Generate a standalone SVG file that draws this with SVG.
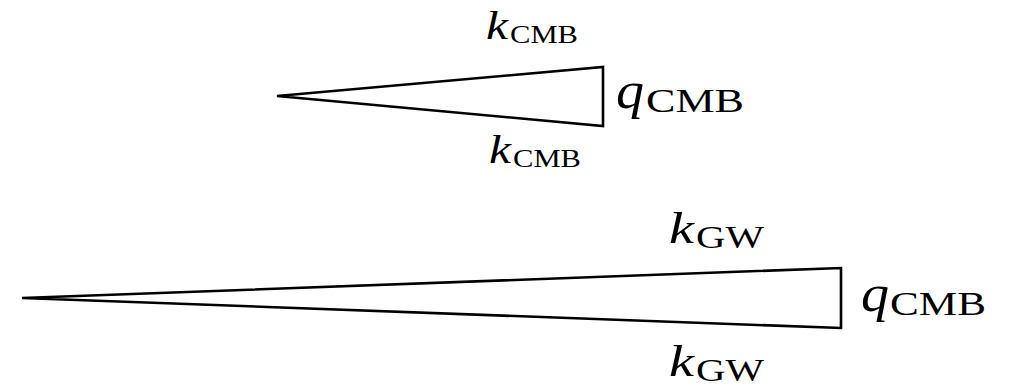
<svg xmlns="http://www.w3.org/2000/svg" width="1011" height="388" viewBox="0 0 1011 388">
<style>
.tri{fill:none;stroke:#000;stroke-width:2.6;stroke-linejoin:miter}
.lab{font-family:"Liberation Serif","DejaVu Serif",serif;fill:#000}
.v{font-style:italic}
.kc{font-size:41px}
.qc{font-size:52px}
.kg{font-size:45px}
.sk{font-size:26px}
.sq{font-size:34px}
.sg{font-size:32px}
</style>
<rect width="1011" height="388" fill="#fff"/>
<g id="edges">
<polygon id="tri-cmb" class="tri" points="277,96 603,67 603,126"/>
<polygon id="tri-gw" class="tri" points="22,298 841,268 841,328"/>
</g>
<g id="label-kcmb-top"><text class="lab v kc" x="486" y="39" textLength="22" lengthAdjust="spacingAndGlyphs">k</text><text class="lab sk" x="510" y="43" textLength="68" lengthAdjust="spacingAndGlyphs">CMB</text></g>
<g id="label-qcmb-top"><text class="lab v qc" x="616" y="108" textLength="28" lengthAdjust="spacingAndGlyphs">q</text><text class="lab sq" x="646" y="112" textLength="98" lengthAdjust="spacingAndGlyphs">CMB</text></g>
<g id="label-kcmb-bottom"><text class="lab v kc" x="489" y="163" textLength="22" lengthAdjust="spacingAndGlyphs">k</text><text class="lab sk" x="513" y="167" textLength="68" lengthAdjust="spacingAndGlyphs">CMB</text></g>
<g id="label-kgw-top"><text class="lab v kg" x="669" y="243" textLength="25" lengthAdjust="spacingAndGlyphs">k</text><text class="lab sg" x="696" y="248" textLength="68" lengthAdjust="spacingAndGlyphs">GW</text></g>
<g id="label-qcmb-bottom"><text class="lab v qc" x="861" y="311" textLength="28" lengthAdjust="spacingAndGlyphs">q</text><text class="lab sq" x="890" y="315" textLength="96" lengthAdjust="spacingAndGlyphs">CMB</text></g>
<g id="label-kgw-bottom"><text class="lab v kg" x="669" y="376" textLength="25" lengthAdjust="spacingAndGlyphs">k</text><text class="lab sg" x="696" y="381" textLength="68" lengthAdjust="spacingAndGlyphs">GW</text></g>
</svg>
